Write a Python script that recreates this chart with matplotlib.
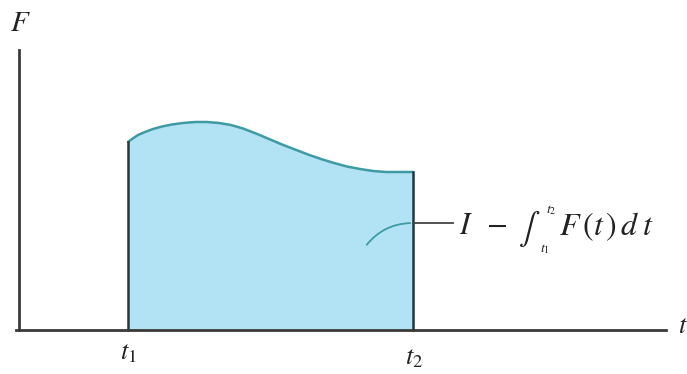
import matplotlib
matplotlib.use("Agg")
import matplotlib.pyplot as plt
from matplotlib.patches import FancyArrowPatch

plt.rcParams['mathtext.fontset'] = 'stix'
plt.rcParams['font.family'] = ['STIXGeneral', 'DejaVu Serif']

# curve F(t)
t_vals = [128, 132, 138, 145, 153, 162, 172, 183, 195, 207, 219, 231, 243, 256, 269, 282, 295, 308, 321, 334, 347, 360, 373, 386, 400, 413]
F_vals = [188, 191, 195, 198, 201, 203.5, 205.5, 207, 208, 208, 207, 205, 201.5, 196.5, 191, 185.5, 180.5, 175.5, 171, 167, 163.5, 161, 159, 158, 158, 158]
t1, t2 = 128, 413
tick_labels = [r'$t_1$', r'$t_2$']

fig = plt.figure(figsize=(6.87, 3.74), dpi=100)
ax = fig.add_axes([0, 0, 1, 1])
ax.set_xlim(0, 687)
ax.set_ylim(-44, 330)
ax.axis('off')

fill_c = '#b2e3f4'
ax.fill_between(t_vals, 0, F_vals, color=fill_c, lw=0)
ax.plot(t_vals, F_vals, color='#3f9aa3', lw=1.8, solid_capstyle='round', solid_joinstyle='round')
ax.plot([t1, t1], [0, F_vals[0]], color='#27363c', lw=1.8)
ax.plot([t2, t2], [0, F_vals[-1]], color='#27363c', lw=1.8)

# axes
ax.plot([16, 666], [0, 0], color='#3a3a3a', lw=2)
ax.plot([19, 19], [0, 280], color='#3a3a3a', lw=2)

txt = dict(color='#222', ha='center', va='center')
ax.text(20, 306, r'$F$', fontsize=21, **txt)
ax.text(683, 3, r'$t$', fontsize=19, **txt)
ax.text(t1, -23, tick_labels[0], fontsize=19, **txt)
ax.text(t2 + 1, -28, tick_labels[1], fontsize=19, **txt)

# leader line
lead = FancyArrowPatch((365, 83), (413, 107), connectionstyle='arc3,rad=-0.25',
                       arrowstyle='-', color='#3f9aa3', lw=1.3)
ax.add_patch(lead)
ax.plot([413, 453], [107, 107], color='#444', lw=1.3)

# label I - int_{t1}^{t2} F(t) dt, laid out piece by piece
yb = 103
ax.text(466, yb, r'$I$', fontsize=22, **txt)
ax.text(496, yb + 1, r'$-$', fontsize=22, **txt)
ax.text(529, 101, r'$\int$', fontsize=23, **txt)
ax.text(551, 120, r'$t_2$', fontsize=10, **txt)
ax.text(545, 81, r'$t_1$', fontsize=10, **txt)
pieces = [('F', 570), ('(', 588), ('t', 599), (')', 611), ('d', 629), ('t', 648)]
for ch, x in pieces:
    ax.text(x, yb, r'$' + ch + '$', fontsize=23, **txt)

fig.savefig('out.png', dpi=100)
